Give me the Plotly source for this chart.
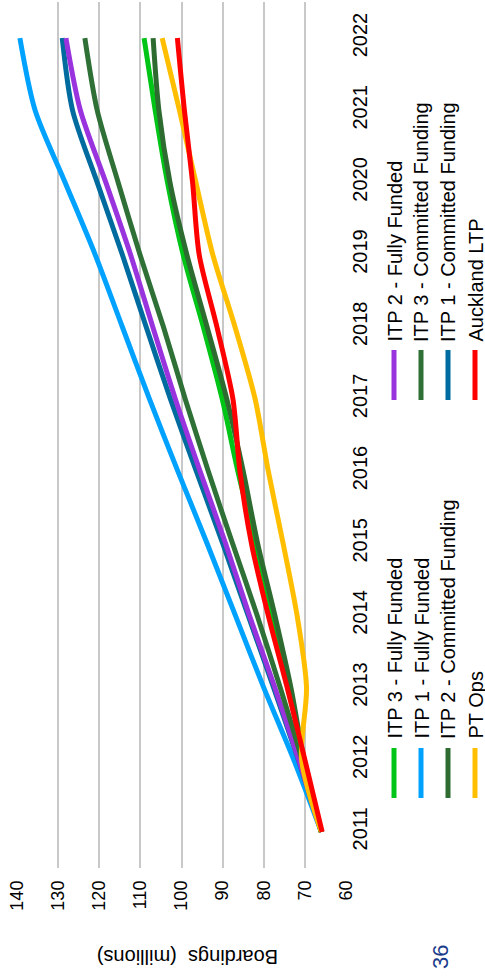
import plotly.graph_objects as go

# Patronage projections, boardings in millions, 2011-2022
years = [2011, 2012, 2013, 2014, 2015, 2016, 2017, 2018, 2019, 2020, 2021, 2022]

itp3_fully_funded = [66.0, 70.3, 73.7, 77.8, 82.0, 86.3, 90.1, 94.7, 99.6, 103.4, 106.4, 109.1]
itp1_fully_funded = [66.0, 72.7, 80.0, 86.9, 93.8, 100.9, 107.8, 114.4, 121.0, 128.3, 135.6, 139.3]
itp2_committed = [66.0, 70.2, 73.4, 77.3, 81.5, 85.0, 89.0, 93.8, 98.7, 102.8, 105.5, 106.9]
pt_ops = [66.0, 70.8, 69.6, 71.9, 75.3, 78.9, 82.1, 87.0, 92.4, 96.5, 100.5, 104.7]
itp2_fully_funded = [66.0, 71.5, 77.3, 83.5, 89.3, 95.5, 101.5, 107.0, 112.4, 118.4, 124.6, 128.1]
itp3_committed = [66.0, 70.7, 76.0, 81.6, 87.6, 93.5, 99.1, 104.4, 110.1, 115.4, 120.5, 123.5]
itp1_committed = [66.0, 71.6, 77.6, 83.8, 90.0, 96.4, 102.7, 108.6, 114.4, 120.5, 126.5, 129.0]
auckland_ltp = [65.8, 70.0, 74.3, 78.9, 83.0, 85.8, 87.5, 91.4, 95.7, 97.3, 99.3, 101.0]

boarding_ticks = [60, 70, 80, 90, 100, 110, 120, 130, 140]

# legend groups (name, values, colour), each drawn as a column block
group_a = [
    ("ITP 3 - Fully Funded", itp3_fully_funded, "#00C416"),
    ("ITP 1 - Fully Funded", itp1_fully_funded, "#00A2FF"),
    ("ITP 2 - Committed Funding", itp2_committed, "#2E6B30"),
    ("PT Ops", pt_ops, "#FFBF00"),
]
group_b = [
    ("ITP 2 - Fully Funded", itp2_fully_funded, "#9933DD"),
    ("ITP 3 - Committed Funding", itp3_committed, "#2E7035"),
    ("ITP 1 - Committed Funding", itp1_committed, "#006B9E"),
    ("Auckland LTP", auckland_ltp, "#FF0000"),
]

FONT = "Arial, Liberation Sans, sans-serif"
W, H = 485, 976
L, R, T, B = 17, 139, 2, 108
PW, PH = W - L - R, H - T - B


def px_to_paper(x, y):
    return (x - L) / PW, (H - B - y) / PH


fig = go.Figure()

# draw order: later series on top
draw_order = [group_a[1], group_b[2], group_b[0], group_b[1], group_a[0], group_a[2], group_a[3], group_b[3]]
for name, vals, color in draw_order:
    fig.add_trace(go.Scatter(
        x=vals, y=years, mode="lines", name=name,
        line=dict(color=color, width=5, shape="spline", smoothing=0.8),
        showlegend=False,
    ))

annotations = []
shapes = []

# rotated legend blocks
def add_legend_block(entries, text_bottom_y, mark_top_y, mark_bot_y):
    xs = [394, 421, 448, 475]
    for (name, _, color), xp in zip(entries, xs):
        ax, ay = px_to_paper(xp, text_bottom_y)
        annotations.append(dict(
            x=ax, y=ay, xref="paper", yref="paper", text=name, showarrow=False,
            textangle=-90, xanchor="center", yanchor="bottom",
            font=dict(family=FONT, size=20, color="#000000"),
        ))
        x0, y0 = px_to_paper(xp, mark_top_y)
        x1, y1 = px_to_paper(xp, mark_bot_y)
        shapes.append(dict(
            type="line", xref="paper", yref="paper", x0=x0, y0=y0, x1=x1, y1=y1,
            line=dict(color=color, width=5),
        ))

add_legend_block(group_a, 741, 748, 798)
add_legend_block(group_b, 344, 350, 400)

# axis title (upside down) and page number
tx, ty = px_to_paper(188, 957)
annotations.append(dict(
    x=tx, y=ty, xref="paper", yref="paper", text="Boardings  (millions)",
    showarrow=False, textangle=180, xanchor="center", yanchor="middle",
    font=dict(family=FONT, size=20, color="#000000"),
))
nx, ny = px_to_paper(440, 957)
annotations.append(dict(
    x=nx, y=ny, xref="paper", yref="paper", text="36",
    showarrow=False, textangle=-90, xanchor="center", yanchor="middle",
    font=dict(family=FONT, size=22, color="#1B3C8C"),
))

fig.update_layout(
    width=W, height=H,
    margin=dict(l=L, r=R, t=T, b=B, pad=0),
    paper_bgcolor="white", plot_bgcolor="white",
    showlegend=False,
    annotations=annotations,
    shapes=shapes,
    xaxis=dict(
        range=[140, 60], tickvals=boarding_ticks, ticktext=[str(v) for v in boarding_ticks],
        tickangle=-90, showgrid=True, gridcolor="#C8C8C8", gridwidth=1.5,
        zeroline=False, showline=False, ticks="", ticklabelstandoff=8,
        tickfont=dict(family=FONT, size=18, color="#000000"),
    ),
    yaxis=dict(
        range=[2010.5, 2022.5], tickvals=years, ticktext=[str(y) for y in years],
        side="right", tickangle=-90, showgrid=False, zeroline=False,
        showline=False, ticks="",
        tickfont=dict(family=FONT, size=20, color="#000000"),
    ),
)

fig.write_html("out.html")
